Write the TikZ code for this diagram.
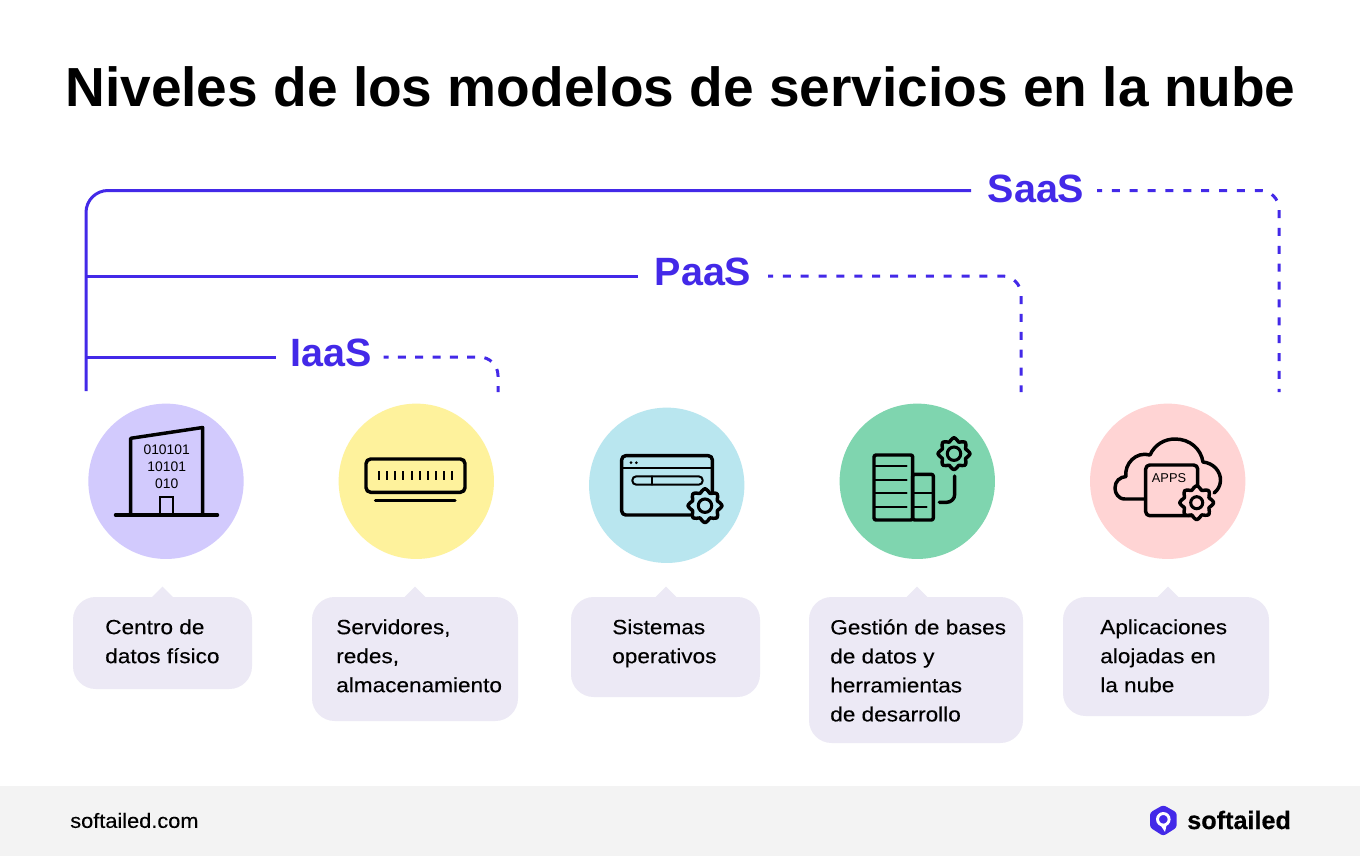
\documentclass[tikz,border=0pt]{standalone}
\usepackage{fontspec}
\setmainfont{Liberation Sans}
\newfontfamily\bodyfont[FakeStretch=1.1,FakeBold=0.25]{Liberation Sans}
\newfontfamily\sitefont[FakeStretch=1.06,FakeBold=0.25]{Liberation Sans}
\newfontfamily\markfont[FakeBold=0.5]{Liberation Sans Bold}
\usetikzlibrary{calc}
\definecolor{brand}{HTML}{4329E8}
\definecolor{bubblebg}{HTML}{ECE9F5}
\definecolor{footerbg}{HTML}{F3F3F3}
\definecolor{cviolet}{HTML}{D2CAFD}
\definecolor{cyellow}{HTML}{FEF29C}
\definecolor{cblue}{HTML}{B9E6EF}
\definecolor{cgreen}{HTML}{7FD5AF}
\definecolor{cpink}{HTML}{FFD4D4}
\tikzset{
  solidlink/.style={draw=brand,line width=2.25pt},
  dotlink/.style={draw=brand,line width=2.25pt,dash pattern=on 6pt off 7.4pt,dash phase=2.25pt},
  levellabel/.style={text=brand,font=\fontsize{29.6}{32}\selectfont\bfseries,inner sep=0pt},
  disc/.style={circle,minimum size=116.5pt,inner sep=0pt,draw=none},
  bubbletext/.style={anchor=north west,inner sep=0pt,align=left,text=black,
    font=\fontsize{15.4}{21.75}\bodyfont},
  icon/.style={draw=black,line width=2.6pt,line join=round,line cap=round,fill=none},
  thinicon/.style={draw=black,line width=1.5pt,line cap=round},
  icontext/.style={inner sep=0pt,text=black,font=\fontsize{10.4}{12}\selectfont},
}
\newcommand{\gearat}[5]{% x y R inner fill
  \filldraw[draw=black,line width=2.6pt,fill=#5,line join=round]
    plot[smooth cycle,domain=0:348.75,samples=32,variable=\t]
    ({#1+#3*(0.89+0.11*cos(8*\t))*cos(\t)},{#2+#3*(0.89+0.11*cos(8*\t))*sin(\t)});
  \draw[black,line width=2.3pt] (#1,#2) circle[radius=#4];
}
\newcommand{\bubbleat}[5]{% x1 y1 x2 y2 pointerx
  \fill[bubblebg] (#5-11,#2+0.5) -- (#5,#2-10.3) -- (#5+11,#2+0.5) -- cycle;
  \fill[bubblebg,rounded corners=17pt] (#1,#2) rectangle (#3,#4);
}
\begin{document}
\begin{tikzpicture}[x=0.75pt,y=-0.75pt]
\path[use as bounding box,fill=white] (0,0) rectangle (1360,856);
\fill[footerbg] (0,786) rectangle (1360,856);

\node[inner sep=0pt,text=black,font={\fontsize{41.3}{48}\selectfont\bfseries}] (title) at (680.5,87)
  {Niveles de los modelos de servicios en la nube};

% level connectors
\node[levellabel] (saas) at (1036,189) {SaaS};
\node[levellabel] (paas) at (703,272) {PaaS};
\node[levellabel] (iaas) at (331,353) {IaaS};
\coordinate (trunktop) at (86,190.5);
\coordinate (trunkbot) at (86,391);
\coordinate (paasroot) at (86,276);
\coordinate (iaasroot) at (86,357);
\coordinate (saasstop) at (971,190.5);
\coordinate (paasstop) at (638,276);
\coordinate (iaasstop) at (276,357);
\coordinate (saasdot) at (1097,190.5);
\coordinate (paasdot) at (768,276);
\coordinate (iaasdot) at (383.5,357);
\coordinate (saasturn) at (1279,190.5);
\coordinate (paasturn) at (1021,276);
\coordinate (iaasturn) at (498,357);
\coordinate (saasend) at (1279,392);
\coordinate (paasend) at (1021,392);
\coordinate (iaasend) at (498,392);
\draw[solidlink,rounded corners=16.5pt] (trunkbot) -- (trunktop) -- (saasstop);
\draw[solidlink] (paasroot) -- (paasstop);
\draw[solidlink] (iaasroot) -- (iaasstop);
\draw[dotlink,rounded corners=14pt] (saasdot) -- (saasturn) -- (saasend);
\draw[dotlink,rounded corners=14pt] (paasdot) -- (paasturn) -- (paasend);
\draw[dotlink,dash pattern=on 6pt off 7pt,dash phase=2.25pt,rounded corners=14pt] (iaasdot) -- (iaasturn) -- (iaasend);

% discs
\node[disc,fill=cviolet] (d1) at (166,481.3) {};
\node[disc,fill=cyellow] (d2) at (416.3,481.3) {};
\node[disc,fill=cblue] (d3) at (666.7,485.3) {};
\node[disc,fill=cgreen] (d4) at (917.3,481.3) {};
\node[disc,fill=cpink] (d5) at (1167.7,481.3) {};

% icon 1: building
\draw[icon] (130.7,515) -- (130.7,438.3) -- (202.7,427.5) -- (202.7,515);
\draw[icon] (115.5,515) -- (217.5,515);
\draw[thinicon,line cap=butt] (160,515) -- (160,496.7) -- (173,496.7) -- (173,515);
\node[icontext] (b1) at (166.7,449.5) {010101};
\node[icontext] (b2) at (166.7,466.3) {10101};
\node[icontext] (b3) at (166.7,483.3) {010};

% icon 2: server
\draw[icon,rounded corners=3.5pt] (366,459) rectangle (465,492.3);
\draw[icon] (375.5,500.3) -- (455,500.3);
\foreach \k in {0,...,9} \draw[thinicon,line cap=butt] (379+\k*8.15,471) -- (379+\k*8.15,480);

% icon 3: window
\draw[icon,rounded corners=3pt] (621.7,455.7) rectangle (712.3,515);
\draw[thinicon] (621.7,467.7) -- (712.3,467.7);
\fill[black] (631,462.7) circle[radius=1.5];
\fill[black] (636.3,462.7) circle[radius=1.5];
\draw[thinicon,rounded corners=3pt] (632.3,476.3) rectangle (702.7,484.7);
\draw[thinicon] (652,476.3) -- (652,484.7);
\gearat{705}{505.7}{17}{6.7}{cblue}

% icon 4: database
\draw[icon,rounded corners=1.5pt] (874,455) rectangle (912.7,520);
\draw[icon,rounded corners=1.5pt] (912.7,474.3) rectangle (933.3,520);
\foreach \yy in {466,479.7,493.3,506.7} \draw[thinicon] (874,\yy) -- (906.7,\yy);
\draw[thinicon] (912.7,493.3) -- (933.3,493.3);
\draw[thinicon] (912.7,506.7) -- (926.7,506.7);
\draw[icon,rounded corners=6pt] (954.7,476) -- (954.7,502.3) -- (939.3,502.3);
\gearat{954}{453.7}{16}{6.7}{cgreen}

% icon 5: cloud
\draw[icon] (1145,499) -- (1125,499)
  .. controls (1118,499) and (1115,493) .. (1115,488)
  .. controls (1115,481) and (1120,477) .. (1126,476.5)
  .. controls (1124,464) and (1136,451) .. (1150,455)
  .. controls (1155,444) and (1165,439) .. (1175,439)
  .. controls (1190,439) and (1201,449) .. (1203,462)
  .. controls (1213,463) and (1221,471) .. (1220.5,481)
  .. controls (1220,486) and (1218,490) .. (1214,493);
\draw[icon,rounded corners=3pt] (1145.7,465) rectangle (1197.7,515.7);
\node[icontext,font=\fontsize{9.6}{12}\selectfont] (apps) at (1169,478.3) {APPS};
\gearat{1196.7}{502.7}{17}{6}{cpink}

% bubbles
\bubbleat{73}{597}{252}{689}{162.5}
\bubbleat{312}{597}{518}{721}{415}
\bubbleat{571}{597}{760}{697}{666}
\bubbleat{809}{597}{1023}{743}{917}
\bubbleat{1063}{597}{1269}{716}{1168}
\node[bubbletext] (t1) at (105,619) {Centro de\\datos físico};
\node[bubbletext] (t2) at (336,619) {Servidores,\\redes,\\almacenamiento};
\node[bubbletext] (t3) at (612,619) {Sistemas\\operativos};
\node[bubbletext] (t4) at (830,619) {Gestión de bases\\de datos y\\herramientas\\de desarrollo};
\node[bubbletext] (t5) at (1100,619) {Aplicaciones\\alojadas en\\la nube};

% footer
\node[anchor=west,inner sep=0pt,text=black,font=\fontsize{15.4}{18}\sitefont] (site) at (70,820.5) {softailed.com};
\fill[brand,rounded corners=2pt] (1163.3,805) -- (1176.7,812.5) -- (1176.7,827.5) -- (1163.3,836) -- (1150,827.5) -- (1150,812.5) -- cycle;
\draw[white,line width=2.2pt] (1163.3,819.3) circle[radius=5.8];
\fill[white] (1161,826) -- (1166.5,825.5) -- (1165,832) -- cycle;
\node[anchor=west,inner sep=0pt,text=black,font=\fontsize{18.9}{24}\markfont] (brandname) at (1187,820) {softailed};
\end{tikzpicture}
\end{document}
